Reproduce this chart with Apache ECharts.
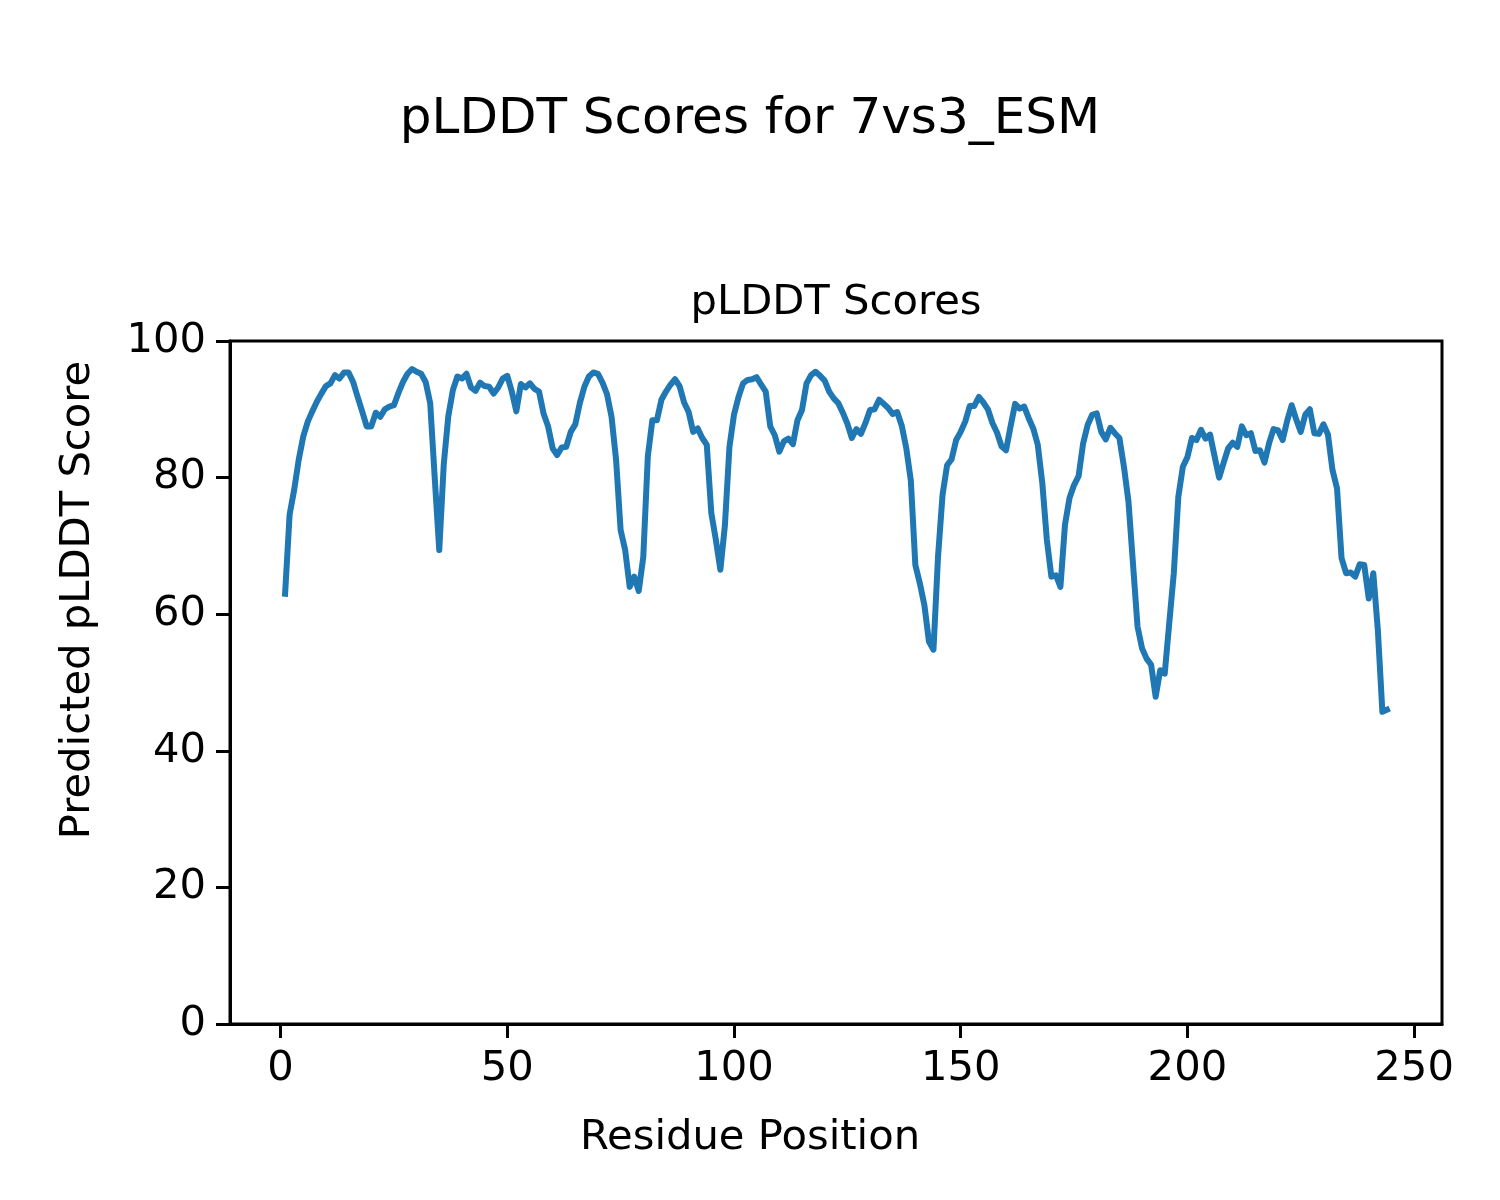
<!DOCTYPE html>
<html>
<head>
<meta charset="utf-8">
<script src="https://cdn.jsdelivr.net/npm/echarts@6/dist/echarts.min.js"></script>
<style>
html,body{margin:0;padding:0;background:#fff;}
#chart{width:1500px;height:1200px;}
</style>
</head>
<body>
<div id="chart"></div>
<script>
// ---- data ----
const firstResidue = 1;
const plddt = [
63.0,74.6,78.2,82.6,86.0,88.2,89.7,91.1,92.3,93.4,
93.8,95.0,94.5,95.4,95.4,94.0,91.8,89.7,87.5,87.5,
89.5,88.9,90.0,90.4,90.6,92.4,94.0,95.2,95.9,95.5,
95.2,94.0,90.9,80.0,69.4,82.0,89.0,92.8,94.8,94.5,
95.2,93.2,92.7,93.9,93.4,93.3,92.3,93.2,94.5,94.9,
92.6,89.7,93.7,93.2,93.8,93.0,92.6,89.4,87.5,84.3,
83.3,84.4,84.5,86.7,87.8,90.9,93.3,94.8,95.4,95.2,
93.9,92.2,88.9,82.6,72.3,69.4,64.0,65.5,63.4,68.4,
83.1,88.4,88.4,91.4,92.6,93.6,94.4,93.4,91.0,89.6,
86.7,87.2,85.8,84.8,74.8,70.9,66.5,73.0,84.5,89.2,
91.8,93.8,94.3,94.4,94.7,93.6,92.6,87.5,86.2,83.8,
85.3,85.7,84.9,88.4,89.9,93.8,95.0,95.5,94.9,94.2,
92.6,91.6,90.9,89.5,87.9,85.8,87.1,86.4,88.0,89.9,
90.0,91.4,90.8,90.2,89.3,89.6,87.6,84.3,79.6,67.2,
64.5,61.3,56.0,54.8,68.4,77.5,81.8,82.7,85.5,86.7,
88.2,90.5,90.5,91.8,91.0,90.0,88.0,86.6,84.6,84.0,
87.5,90.8,90.1,90.4,88.7,87.2,84.8,79.2,70.9,65.5,
65.7,64.0,73.1,77.0,78.9,80.2,85.0,87.7,89.2,89.4,
86.7,85.6,87.3,86.5,85.8,81.6,76.5,67.4,58.2,55.0,
53.5,52.6,47.9,51.8,51.3,58.7,66.0,77.2,81.6,83.0,
85.8,85.5,87.0,85.7,86.3,83.1,80.0,82.2,84.3,85.1,
84.5,87.5,86.2,86.5,83.9,84.0,82.2,85.0,87.1,86.9,
85.5,88.3,90.6,88.5,86.7,89.2,90.0,86.5,86.4,87.8,
86.3,81.1,78.4,68.2,66.0,66.1,65.5,67.3,67.2,62.3,
66.0,57.7,45.7,46.0
];
const xTicks = [0, 50, 100, 150, 200, 250];
const yTicks = [0, 20, 40, 60, 80, 100];
const figTitle = 'pLDDT Scores for 7vs3_ESM';
const axTitle = 'pLDDT Scores';
const xLabel = 'Residue Position';
const yLabel = 'Predicted pLDDT Score';

// ---- chart ----
const seriesData = plddt.map((v, i) => [firstResidue + i, v]);
const n = plddt.length;
const xSpan = (n - 1);
const xMin = firstResidue - 0.05 * xSpan;
const xMax = firstResidue + xSpan + 0.05 * xSpan;

const FONT = '"DejaVu Sans", sans-serif';
const chart = echarts.init(document.getElementById('chart'), null, {renderer: 'canvas'});
const gl = 230, gt = 341, gw = 1212, gh = 683;

chart.setOption({
  animation: false,
  backgroundColor: '#ffffff',
  grid: {left: gl, top: gt, width: gw, height: gh, show: true, borderColor: '#000', borderWidth: 3, backgroundColor: 'transparent', containLabel: false},
  xAxis: {
    type: 'value', min: xMin, max: xMax,
    axisLine: {show: true, onZero: false, lineStyle: {color: '#000', width: 3}},
    axisTick: {show: true, inside: false, length: 14, lineStyle: {color: '#000', width: 3}, customValues: xTicks},
    axisLabel: {show: true, customValues: xTicks, color: '#000', fontFamily: FONT, fontSize: 41.7, margin: 24},
    splitLine: {show: false}
  },
  yAxis: {
    type: 'value', min: 0, max: 100, interval: 20,
    axisLine: {show: true, onZero: false, lineStyle: {color: '#000', width: 3}},
    axisTick: {show: true, inside: false, length: 14, lineStyle: {color: '#000', width: 3}},
    axisLabel: {show: true, color: '#000', fontFamily: FONT, fontSize: 41.7, margin: 24},
    splitLine: {show: false}
  },
  series: [{
    type: 'line',
    data: seriesData,
    showSymbol: false,
    symbol: 'none',
    lineStyle: {color: '#1f77b4', width: 6, join: 'round', cap: 'square'},
    z: 3
  }],
  graphic: [
    {type: 'text', x: 750, y: 120, style: {text: figTitle, font: '50px ' + FONT, fill: '#000', align: 'center', verticalAlign: 'middle'}},
    {type: 'text', x: 836, y: 303, style: {text: axTitle, font: '41.7px ' + FONT, fill: '#000', align: 'center', verticalAlign: 'middle'}},
    {type: 'text', x: 750, y: 1138, style: {text: xLabel, font: '41.7px ' + FONT, fill: '#000', align: 'center', verticalAlign: 'middle'}},
    {type: 'text', x: 78, y: 600, rotation: Math.PI / 2, style: {text: yLabel, font: '41.7px ' + FONT, fill: '#000', align: 'center', verticalAlign: 'middle'}}
  ]
});
</script>
</body>
</html>
